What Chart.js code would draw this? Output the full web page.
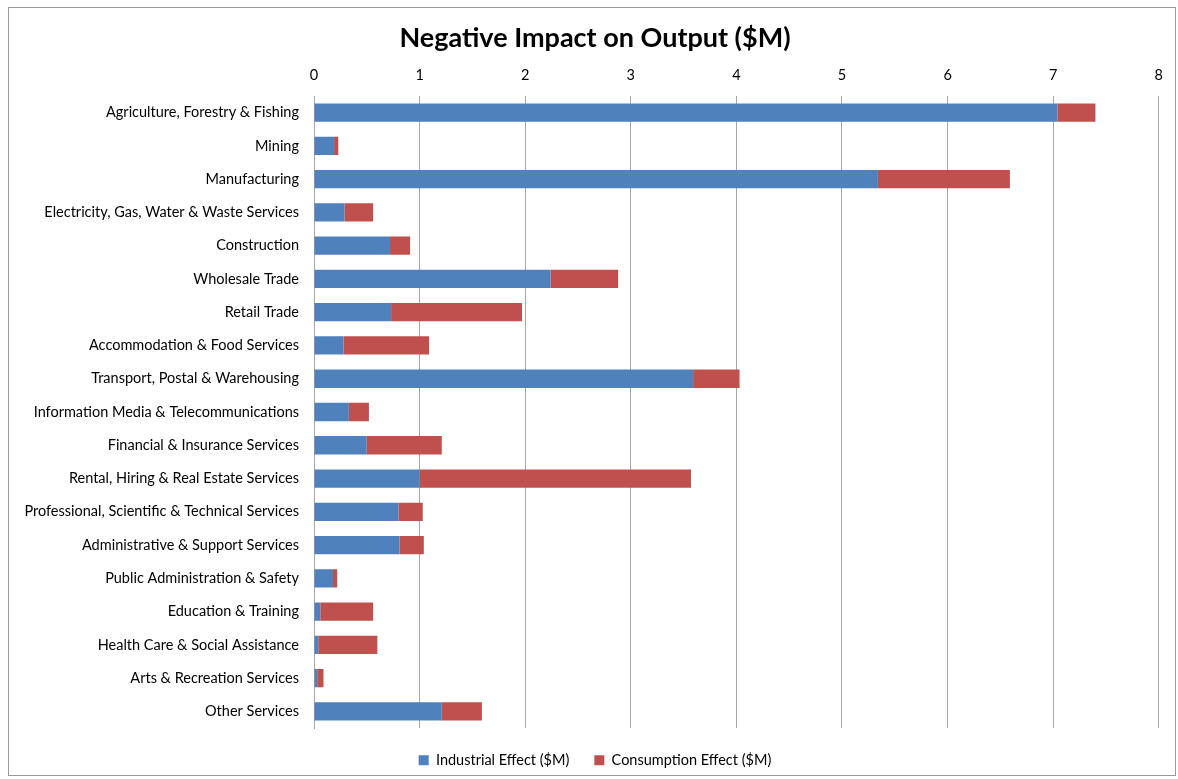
<!DOCTYPE html>
<html>
<head>
<meta charset="utf-8">
<script src="https://cdn.jsdelivr.net/npm/chart.js@4/dist/chart.umd.min.js"></script>
<style>
  body { margin: 0; background: #fff; }
  #wrap { position: absolute; left: 8px; top: 7px; width: 1166px; height: 767px; border: 1px solid #9a9a9a; }
</style>
</head>
<body>
<div id="wrap"><canvas id="impactChart" width="1166" height="767"></canvas></div>
<script>
// categories, top to bottom
const sectors = [
  'Agriculture, Forestry & Fishing',
  'Mining',
  'Manufacturing',
  'Electricity, Gas, Water & Waste Services',
  'Construction',
  'Wholesale Trade',
  'Retail Trade',
  'Accommodation & Food Services',
  'Transport, Postal & Warehousing',
  'Information Media & Telecommunications',
  'Financial & Insurance Services',
  'Rental, Hiring & Real Estate Services',
  'Professional, Scientific & Technical Services',
  'Administrative & Support Services',
  'Public Administration & Safety',
  'Education & Training',
  'Health Care & Social Assistance',
  'Arts & Recreation Services',
  'Other Services'
];

// $M values
const industrialEffect = [7.04, 0.19, 5.34, 0.29, 0.72, 2.24, 0.73, 0.28, 3.59, 0.33, 0.50, 1.00, 0.80, 0.81, 0.18, 0.06, 0.04, 0.03, 1.21];
const consumptionEffect = [0.36, 0.04, 1.25, 0.27, 0.19, 0.64, 1.24, 0.81, 0.44, 0.19, 0.71, 2.57, 0.23, 0.23, 0.04, 0.50, 0.56, 0.06, 0.38];

const xTicks = [0, 1, 2, 3, 4, 5, 6, 7, 8];

const FONT = 'Lato, "Open Sans", sans-serif';
const gridGray = '#a6a6a6';

new Chart(document.getElementById('impactChart'), {
  type: 'bar',
  data: {
    labels: sectors,
    datasets: [
      { label: 'Industrial Effect ($M)', data: industrialEffect, backgroundColor: '#4F81BD' },
      { label: 'Consumption Effect ($M)', data: consumptionEffect, backgroundColor: '#C0504D' }
    ]
  },
  options: {
    indexAxis: 'y',
    responsive: false,
    animation: false,
    layout: { padding: { left: 6, right: 0, top: 0, bottom: 0 } },
    datasets: { bar: { barPercentage: 0.55, categoryPercentage: 1 } },
    plugins: {
      title: {
        display: true,
        text: 'Negative Impact on Output ($M)',
        color: '#000',
        font: { family: FONT, size: 27, weight: 'bold' },
        padding: { top: 14, bottom: 10 }
      },
      legend: {
        position: 'bottom',
        maxHeight: 47,
        labels: {
          color: '#000',
          font: { family: FONT, size: 14.5 },
          boxWidth: 10, boxHeight: 10,
          padding: 25
        }
      },
      tooltip: { enabled: false }
    },
    scales: {
      x: {
        position: 'top',
        stacked: true,
        min: 0, max: 8,
        afterBuildTicks: (axis) => { axis.ticks = xTicks.map(v => ({ value: v })); },
        afterFit: (axis) => { axis.height = 31.6; },
        grid: { color: gridGray, lineWidth: 1, drawTicks: false },
        border: { display: false },
        ticks: { color: '#000', font: { family: FONT, size: 14.5 }, padding: 12 }
      },
      y: {
        stacked: true,
        afterFit: (axis) => { axis.width = 299; },
        grid: { display: false, drawTicks: false },
        border: { display: true, color: gridGray, width: 1 },
        ticks: { color: '#000', font: { family: FONT, size: 14.5 }, padding: 15 }
      },
      // empty right-hand margin so the plot ends where the original does
      yRight: {
        type: 'category',
        position: 'right',
        afterFit: (axis) => { axis.width = 15; },
        grid: { display: false, drawTicks: false },
        border: { display: false },
        ticks: { display: false }
      }
    }
  }
});
</script>
</body>
</html>
